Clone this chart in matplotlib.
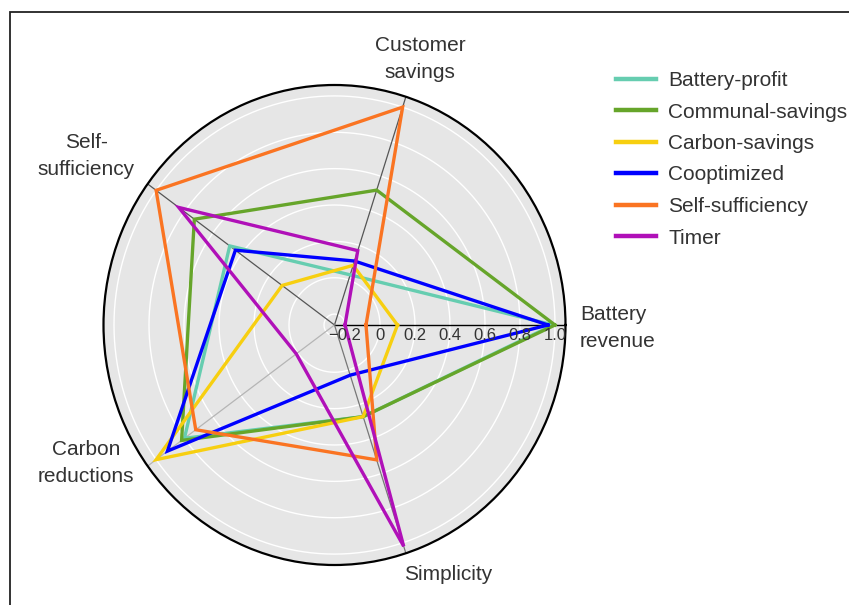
import numpy as np
import matplotlib
matplotlib.use("Agg")
import matplotlib.pyplot as plt
from matplotlib import transforms
from matplotlib.patches import Rectangle

plt.rcParams['font.family'] = ['Liberation Sans', 'DejaVu Sans']

# Radar axes (counter-clockwise from the right)
categories = ["Battery\nrevenue", "Customer\nsavings", "Self-\nsufficiency",
              "Carbon\nreductions", "Simplicity"]

# Normalised scores per strategy, in the order of `categories`
battery_profit    = [0.99, 0.03, 0.48, 0.80, 0.27]
communal_savings  = [1.00, 0.52, 0.73, 0.82, 0.27]
carbon_savings    = [0.10, 0.085, 0.11, 1.00, 0.27]
cooptimized       = [0.96, 0.11, 0.44, 0.92, 0.03]
self_sufficiency  = [-0.08, 1.00, 1.00, 0.72, 0.52]
timer             = [-0.20, 0.17, 0.84, 0.01, 1.02]

series_names = ["Battery-profit", "Communal-savings", "Carbon-savings",
                "Cooptimized", "Self-sufficiency", "Timer"]
series_values = [battery_profit, communal_savings, carbon_savings,
                 cooptimized, self_sufficiency, timer]
series_colors = ["#66cdb0", "#66a52a", "#f7cf10", "#0000ff", "#fa7422", "#b010b8"]

radial_ticks = [-0.2, 0, 0.2, 0.4, 0.6, 0.8, 1.0]
radial_tick_labels = ["\u22120.2", "0", "0.2", "0.4", "0.6", "0.8", "1.0"]
r_min, r_max = -0.26, 1.06

W, H = 849, 605
fig = plt.figure(figsize=(W / 100, H / 100), dpi=100)
fig.patch.set_facecolor("white")

# page frame
fig.patches.append(Rectangle((10 / W, -0.1), 1.2, 1 - 12 / H + 0.1,
                             transform=fig.transFigure, fill=False,
                             edgecolor="#222222", linewidth=1.3))

cx, cy, rx, ry = 334.5, 325, 231, 240
ax = fig.add_axes([(cx - rx) / W, (H - cy - ry) / H, 2 * rx / W, 2 * ry / H],
                  projection="polar")
ax.set_aspect("auto")
ax.set_facecolor("#e6e6e6")
ax.set_ylim(r_min, r_max)
ax.set_xticks([])
ax.set_yticks([])
ax.grid(False)
ax.spines["polar"].set_color("black")
ax.spines["polar"].set_linewidth(1.6)

n = len(categories)
angles = np.arange(n) * 2 * np.pi / n

# circular grid
full = np.linspace(0, 2 * np.pi, 361)
for t in radial_ticks:
    ax.plot(full, np.full_like(full, t), color="white", lw=1.0, zorder=1)

# spokes
spoke_colors = ["black", "#555555", "#555555", "#b5b5b5", "#777777"]
for a, c in zip(angles, spoke_colors):
    ax.plot([a, a], [r_min, r_max], color=c, lw=0.9 if c != "black" else 1.0, zorder=2)

# traces
for name, vals, col in zip(series_names, series_values, series_colors):
    v = list(vals) + [vals[0]]
    th = list(angles) + [angles[0]]
    ax.plot(th, v, color=col, lw=2.4, label=name, zorder=3,
            solid_joinstyle="miter")

# radial tick labels along the first spoke
off = transforms.offset_copy(ax.transData, fig=fig, x=0, y=-2, units="points")
for t, lab in zip(radial_ticks, radial_tick_labels):
    ax.text(0, t, lab, transform=off, ha="center", va="top",
            fontsize=12, color="#333333", zorder=4)

# category labels
label_pos = [(580, 328, "left"), (420, 59, "center"), (86, 156, "center"),
             (86, 463, "center"), (448, 575, "center")]
for lab, (px, py, ha) in zip(categories, label_pos):
    fig.text(px / W, 1 - py / H, lab, ha=ha, va="center", fontsize=15,
             color="#333333", multialignment="center" if ha == "center" else "left",
             linespacing=1.5)

leg = fig.legend(loc="upper left", bbox_to_anchor=(616 / W, 1 - 71 / H),
                 frameon=False, fontsize=15, handlelength=1.9,
                 handletextpad=0.6, labelspacing=0.6, borderpad=0,
                 borderaxespad=0)
for t in leg.get_texts():
    t.set_color("#333333")
for h in leg.get_lines():
    h.set_linewidth(3.2)

fig.savefig("out.png", dpi=100)
